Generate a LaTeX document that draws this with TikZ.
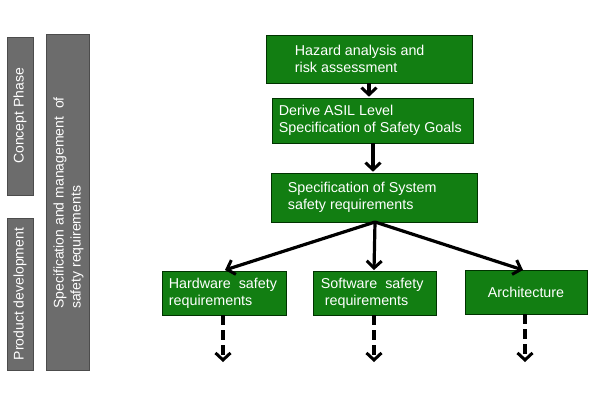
\documentclass[tikz,border=0pt]{standalone}
\usepackage{fontspec}
\setmainfont{Liberation Sans}
\usetikzlibrary{arrows.meta}
\definecolor{boxgreen}{RGB}{18,126,18}
\definecolor{bargray}{RGB}{108,108,108}
\begin{document}
\begin{tikzpicture}[x=1pt,y=-1pt,
  gbox/.style={draw=black!80!green,line width=0.6pt,fill=boxgreen,rectangle,inner sep=0pt},
  gtext/.style={text=white,font=\fontsize{14.3}{17}\selectfont,align=left,inner sep=0pt,anchor=west},
  gbar/.style={draw=black!70,line width=0.6pt,fill=bargray,rectangle,inner sep=0pt},
  btext/.style={text=white,font=\fontsize{14}{17}\selectfont,align=left,inner sep=0pt,rotate=90},
  arr/.style={line width=3.2pt,-{Straight Barb[length=7pt,width=15pt,line width=3pt]}},
  darr/.style={arr,dash pattern=on 10pt off 5pt}]
\useasboundingbox (0,0) rectangle (600,400);
% left bars
\node[gbar,minimum width=26,minimum height=158] (cp) at (20,116) {};
\node[btext] (cpt) at (cp.center) {Concept Phase};
\node[gbar,minimum width=26,minimum height=152] (pd) at (20,294) {};
\node[btext] (pdt) at (pd.center) {Product development};
\node[gbar,minimum width=43,minimum height=336] (sm) at (67.5,202) {};
\node[btext] (smt) at (68.5,203) {Specification and management\ \ of\\safety requirements};
% green boxes
\node[gbox,minimum width=206,minimum height=48] (haz) at (369,59) {};
\node[gtext] (hazt) at ([xshift=29]haz.west) {Hazard analysis and\\risk assessment};
\node[gbox,minimum width=201,minimum height=45] (asil) at (372.5,120.5) {};
\node[gtext] (asilt) at ([xshift=7]asil.west) {Derive ASIL Level\\Specification of Safety Goals};
\node[gbox,minimum width=206,minimum height=49] (sys) at (374,197.5) {};
\node[gtext] (syst) at ([xshift=17]sys.west) {Specification of System\\safety requirements};
\node[gbox,minimum width=124,minimum height=44] (hw) at (224,293) {};
\node[gtext] (hwt) at ([xshift=7]hw.west) {Hardware\ \ safety\\requirements};
\node[gbox,minimum width=123,minimum height=44] (sw) at (374.5,293) {};
\node[gtext] (swt) at ([xshift=8]sw.west) {Software\ \ safety\\\ requirements};
\node[gbox,minimum width=122,minimum height=44] (arch) at (526,292) {};
\node[gtext,anchor=center] (archt) at (arch.center) {Architecture};
% arrows
\draw[arr] (haz.south -| 369,0) -- ([yshift=1]asil.north -| 369,0);
\draw[arr] (asil.south -| 373,0) -- ([yshift=1]sys.north -| 373,0);
\coordinate (src) at (375,222);
\draw[arr] (src) -- (225,270);
\draw[arr] (src) -- (374,270);
\draw[arr] (src) -- (523,270);
\coordinate (e1) at (223,362);
\coordinate (e2) at (374,362);
\coordinate (e3) at (525,362);
\draw[darr] (hw.south -| e1) -- (e1);
\draw[darr] (sw.south -| e2) -- (e2);
\draw[darr] (arch.south -| e3) -- (e3);
\end{tikzpicture}
\end{document}
